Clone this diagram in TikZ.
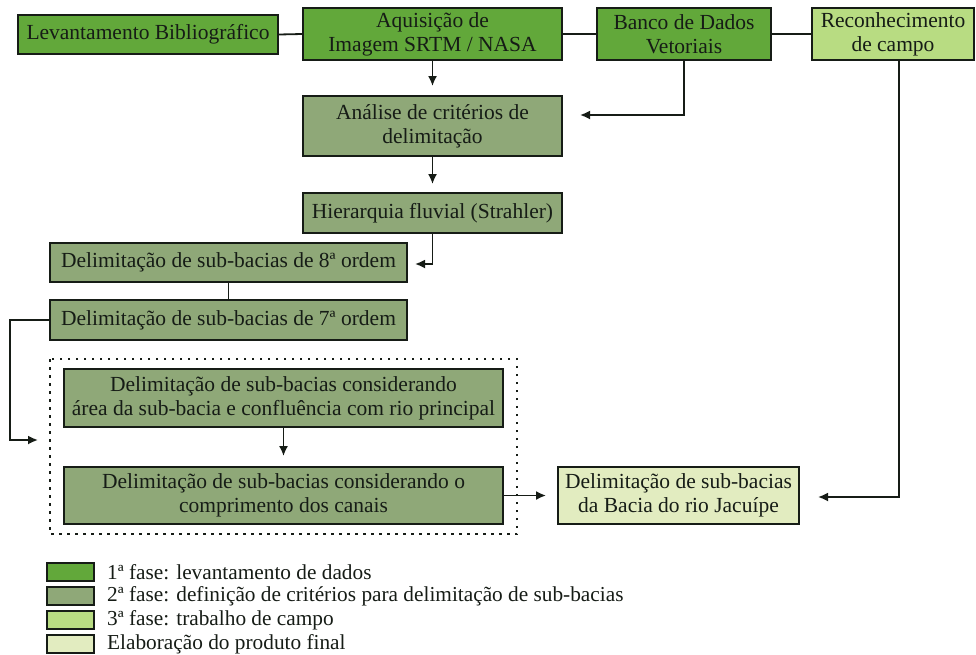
\documentclass[tikz,border=0pt]{standalone}
\usepackage{fontspec}
\IfFontExistsTF{LiberationSerif-Regular.ttf}
  {\setmainfont{LiberationSerif-Regular.ttf}[BoldFont=LiberationSerif-Bold.ttf]}
  {\setmainfont{Liberation Serif}}
\usetikzlibrary{arrows.meta}
\definecolor{phaseone}{RGB}{98,168,58}
\definecolor{phasetwo}{RGB}{143,168,120}
\definecolor{phasethree}{RGB}{184,220,130}
\definecolor{finalc}{RGB}{226,236,192}
\definecolor{ink}{RGB}{22,28,22}
\begin{document}
\begin{tikzpicture}[x=1pt,y=-1pt,
  box/.style={draw=ink,line width=1.9pt,inner sep=0pt,align=center,text=ink,
    font=\fontsize{21.5}{24}\selectfont},
  pone/.style={box,fill=phaseone},
  ptwo/.style={box,fill=phasetwo},
  pthree/.style={box,fill=phasethree},
  pfinal/.style={box,fill=finalc},
  link/.style={draw=ink,line width=1.8pt},
  arr/.style={link,-{Latex[length=10pt,width=9pt]}},
  legbox/.style={draw=ink,line width=1.9pt,minimum width=47pt,minimum height=18pt,inner sep=0pt},
  legtext/.style={anchor=west,text=ink,inner sep=0pt,font=\fontsize{21.3}{24}\selectfont}
]
\useasboundingbox (0,0) rectangle (976,654);
\fill[white] (0,0) rectangle (976,654);

% top row
\node[pone,minimum width=260pt,minimum height=39pt] (lev) at (148,34.5) {Levantamento Bibliográfico};
\node[pone,minimum width=259pt,minimum height=52pt] (aq) at (432.5,34) {Aquisição de\\Imagem SRTM / NASA};
\node[pone,minimum width=174pt,minimum height=52pt] (banco) at (684,34) {Banco de Dados\\Vetoriais};
\node[pthree,minimum width=162pt,minimum height=52pt] (recon) at (893,34) {Reconhecimento\\de campo};

% phase 2
\node[ptwo,minimum width=259pt,minimum height=60pt] (anal) at (432.5,126) {Análise de critérios de\\delimitação};
\node[ptwo,minimum width=259pt,minimum height=40pt] (hier) at (432.5,213) {Hierarquia fluvial (Strahler)};
\node[ptwo,minimum width=357pt,minimum height=39pt] (o8) at (228.5,262.5) {Delimitação de sub-bacias de 8ª ordem};
\node[ptwo,minimum width=357pt,minimum height=40pt] (o7) at (228.5,320) {Delimitação de sub-bacias de 7ª ordem};

\draw[draw=ink,line width=1.8pt,dash pattern=on 2.5pt off 5.5pt] (50,359) rectangle (517,534);
\node[ptwo,minimum width=439pt,minimum height=58pt] (ca) at (283.5,398) {Delimitação de sub-bacias considerando\\área da sub-bacia e confluência com rio principal};
\node[ptwo,minimum width=439pt,minimum height=57pt] (cb) at (283.5,495.5) {Delimitação de sub-bacias considerando o\\comprimento dos canais};
\node[pfinal,minimum width=241pt,minimum height=57pt] (jac) at (678.5,495.5) {Delimitação de sub-bacias\\da Bacia do rio Jacuípe};

% free ends
\coordinate (t1) at (580,115);
\coordinate (t2) at (818,497);
\coordinate (t3) at (415,264);
\coordinate (t4) at (38,440);

% connectors
\draw[link] (lev.east) -- (aq.west);
\draw[link] (aq.east) -- (banco.west);
\draw[link] (banco.east) -- (recon.west);
\draw[arr,shorten >=9pt] (aq.south) -- (anal.north);
\draw[arr] (banco.south) |- (t1);
\draw[arr] ([xshift=6pt]recon.south) |- (t2);
\draw[arr,shorten >=8pt] (anal.south) -- (hier.north);
\draw[arr] (hier.south) |- (t3);
\draw[link] (o8.south) -- (o7.north);
\draw[arr] (o7.west) -- ++(-39,0) |- (t4);
\draw[arr,shorten >=10pt] (ca.south) -- (cb.north);
\draw[arr,shorten >=11pt] (cb.east) -- (jac.west);

% legend
\node[legbox,fill=phaseone] (l1) at (70.5,572) {};
\node[legbox,fill=phasetwo] (l2) at (70.5,596) {};
\node[legbox,fill=phasethree] (l3) at (70.5,620) {};
\node[legbox,fill=finalc] (l4) at (70.5,644) {};
\node[legtext] (lt1) at (107,572) {1ª fase: levantamento de dados};
\node[legtext] (lt2) at (107,596) {2ª fase: definição de critérios para delimitação de sub-bacias};
\node[legtext] (lt3) at (107,620) {3ª fase: trabalho de campo};
\node[legtext] (lt4) at (107,644) {Elaboração do produto final};
\end{tikzpicture}
\end{document}
